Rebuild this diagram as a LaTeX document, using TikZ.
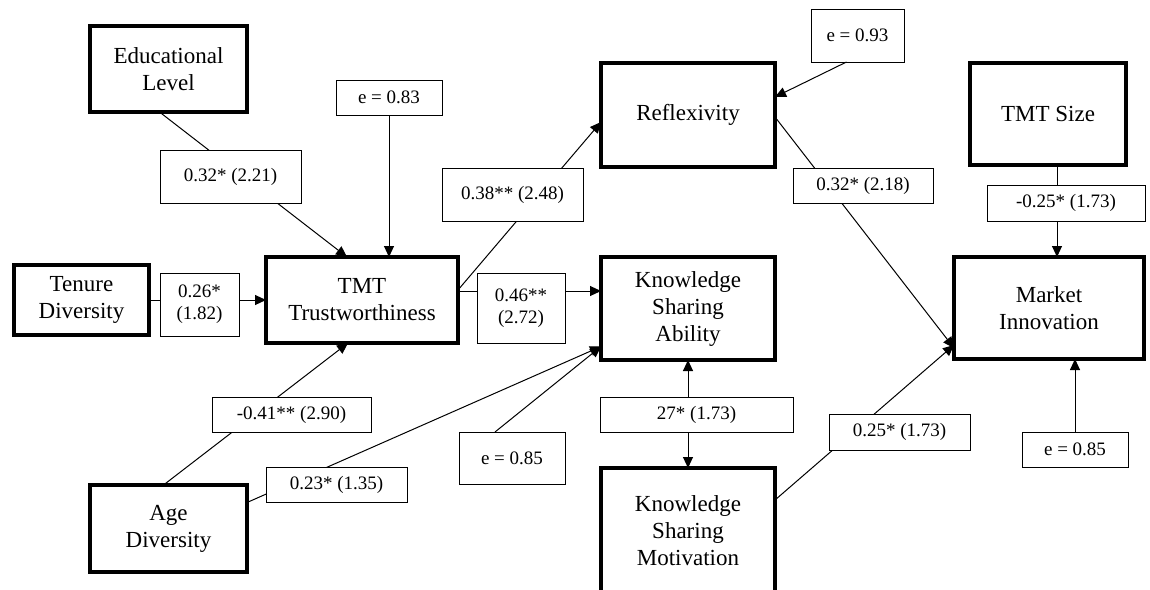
\documentclass[tikz,border=0pt]{standalone}
\usepackage{fontspec}
\setmainfont{Liberation Serif}
\usetikzlibrary{arrows.meta}
\tikzset{
  mainbox/.style={draw, line width=3.5pt, inner sep=0pt, outer sep=0pt, align=center,
    font=\fontsize{23}{27}\selectfont},
  lbl/.style={draw, line width=0.9pt, fill=white, inner sep=0pt, outer sep=0pt, align=center,
    font=\fontsize{19}{22}\selectfont},
  conn/.style={line width=1pt},
  arr/.style={conn, -{Triangle[length=11pt,width=10pt]}},
  darr/.style={conn, {Triangle[length=11pt,width=10pt]}-{Triangle[length=11pt,width=10pt]}}
}
\begin{document}
\begin{tikzpicture}[x=1pt,y=-1pt]
\useasboundingbox (0,0) rectangle (1150,589);
\clip (0,0) rectangle (1150,589);
% main boxes
\node[mainbox, minimum width=157, minimum height=86] (edu) at (168.5,69) {Educational\\Level};
\node[mainbox, minimum width=135, minimum height=70] (ten) at (81.5,300) {Tenure\\Diversity};
\node[mainbox, minimum width=192, minimum height=86] (tmt) at (362,300) {TMT\\Trustworthiness};
\node[mainbox, minimum width=157, minimum height=87] (age) at (168.5,528.5) {Age\\Diversity};
\node[mainbox, minimum width=174, minimum height=104] (refl) at (688,115) {Reflexivity};
\node[mainbox, minimum width=174, minimum height=103] (ksa) at (688,308.5) {Knowledge\\Sharing\\Ability};
\node[mainbox, minimum width=174, minimum height=126] (ksm) at (688,531) {Knowledge\\Sharing\\Motivation};
\node[mainbox, minimum width=156, minimum height=102] (size) at (1048,114) {TMT Size};
\node[mainbox, minimum width=190, minimum height=102] (mkt) at (1049,308) {Market\\Innovation};
% error boxes
\node[lbl, minimum width=106, minimum height=35] (e83) at (389,97.5) {e = 0.83};
\node[lbl, minimum width=93, minimum height=53] (e93) at (857.5,35.5) {e = 0.93};
\node[lbl, minimum width=106, minimum height=52] (e85a) at (512,458) {e = 0.85};
\node[lbl, minimum width=106, minimum height=35] (e85b) at (1075,449.5) {e = 0.85};
% connectors
\draw[arr] ([xshift=-9pt]edu.south) -- ([xshift=-15pt]tmt.north);
\draw[arr] (e83.south) -- (tmt.north -| e83.south);
\draw[arr] (ten.east) -- (tmt.west);
\draw[arr] ([yshift=10pt]tmt.east) -- ([yshift=-7pt]refl.west);
\draw[arr] ([yshift=9pt]tmt.east) -- ([yshift=9pt]tmt.east -| ksa.west);
\draw[arr] ([xshift=-5pt]age.north) -- ([xshift=-14pt]tmt.south);
\draw[arr] ([yshift=26pt]age.east) -- ([yshift=-38pt]ksa.west);
\draw[arr] ([xshift=-17pt]e85a.north) -- ([yshift=-38pt]ksa.west);
\draw[arr] ([yshift=-2pt]refl.east) -- ([yshift=-40pt]mkt.west);
\draw[arr] ([xshift=-11pt]e93.south) -- ([yshift=18pt]refl.east);
\draw[arr] ([xshift=9pt]size.south) -- ([xshift=9pt]size.south |- mkt.north);
\draw[arr] ([yshift=31pt]ksm.east) -- ([yshift=-37pt]mkt.west);
\draw[arr] (e85b.north) -- (mkt.south -| e85b.north);
\draw[darr] (ksa.south) -- (ksm.north);
% path labels
\node[lbl, minimum width=141, minimum height=53] (l1) at (230.5,176.5) {0.32* (2.21)};
\node[lbl, minimum width=79, minimum height=63] (l2) at (199.5,304.5) {0.26*\\(1.82)};
\node[lbl, minimum width=159, minimum height=35] (l3) at (291.5,414.5) {-0.41** (2.90)};
\node[lbl, minimum width=141, minimum height=35] (l4) at (336.5,484.5) {0.23* (1.35)};
\node[lbl, minimum width=141, minimum height=53] (l5) at (512.5,194.5) {0.38** (2.48)};
\node[lbl, minimum width=88, minimum height=70] (l6) at (521,308) {0.46**\\(2.72)};
\node[lbl, minimum width=193, minimum height=35] (l7) at (696.5,414.5) {27* (1.73)};
\node[lbl, minimum width=140, minimum height=35] (l8) at (863,185.5) {0.32* (2.18)};
\node[lbl, minimum width=158, minimum height=36] (l9) at (1066,203) {-0.25* (1.73)};
\node[lbl, minimum width=141, minimum height=36] (l10) at (899.5,432) {0.25* (1.73)};
\end{tikzpicture}
\end{document}
